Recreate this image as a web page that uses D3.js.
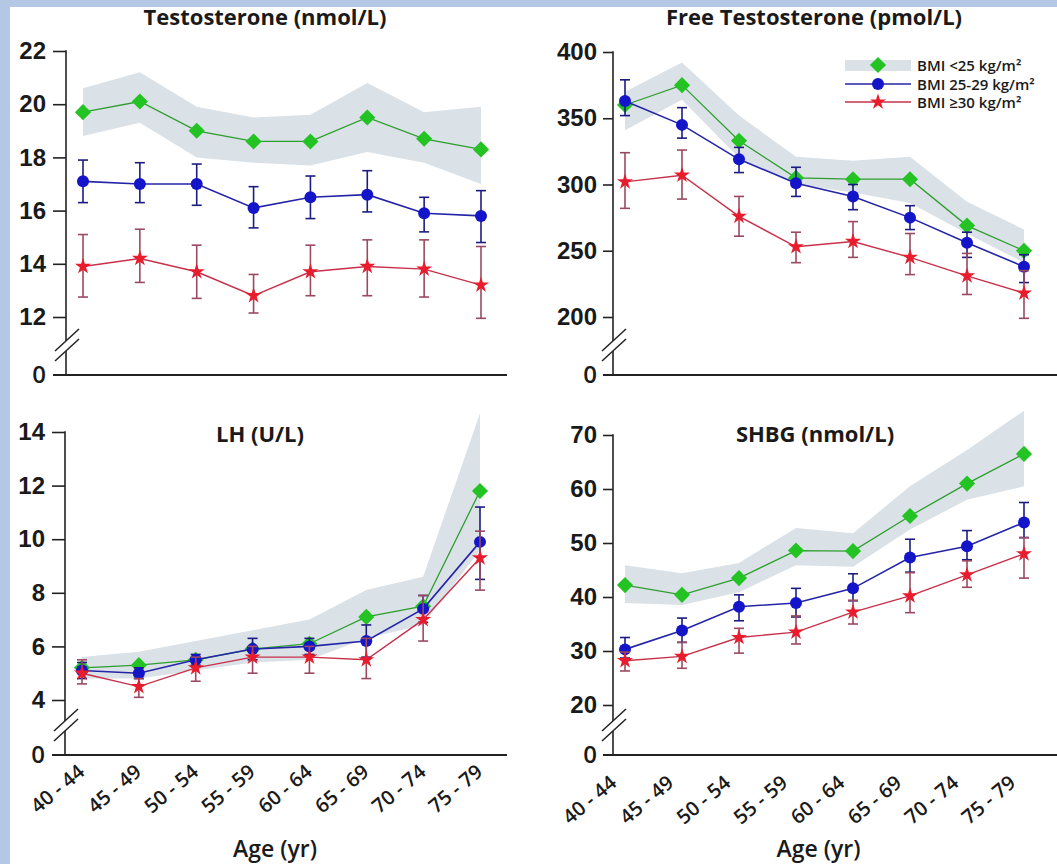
<!DOCTYPE html>
<meta charset="utf-8">
<style>
body{margin:0;background:#b4c8e6;}
svg{display:block;font-family:"Open Sans",sans-serif;}
</style>
<svg id="chart" width="1057" height="864"></svg>
<script src="https://cdn.jsdelivr.net/npm/d3@7"></script>
<script>

// age groups on x
var ageGroups = ["40 - 44","45 - 49","50 - 54","55 - 59","60 - 64","65 - 69","70 - 74","75 - 79"]

// testosterone (nmol/L)
var testoLean = [19.7, 20.1, 19.0, 18.6, 18.6, 19.5, 18.7, 18.3],
    testoLeanLo = [18.8, 19.3, 18.0, 17.8, 17.7, 18.2, 17.8, 17.0],
    testoLeanHi = [20.6, 21.2, 19.9, 19.5, 19.6, 20.8, 19.7, 19.9],
    testoOver = [17.1, 17.0, 17.0, 16.1, 16.5, 16.6, 15.9, 15.8],
    testoOverLo = [16.3, 16.3, 16.2, 15.35, 15.7, 15.95, 15.2, 14.8],
    testoOverHi = [17.9, 17.8, 17.75, 16.9, 17.3, 17.5, 16.5, 16.75],
    testoObese = [13.9, 14.2, 13.7, 12.8, 13.7, 13.9, 13.8, 13.2],
    testoObeseLo = [12.75, 13.3, 12.7, 12.15, 12.8, 12.8, 12.75, 11.95],
    testoObeseHi = [15.1, 15.3, 14.7, 13.6, 14.7, 14.9, 14.9, 14.65]

// free testosterone (pmol/L)
var freeLean = [360, 375, 333, 305, 304, 304, 269, 250],
    freeLeanLo = [341, 364, 320, 300, 294, 286, 263, 241],
    freeLeanHi = [370, 392, 352, 321, 318, 321, 287, 266],
    freeOver = [363, 345, 319, 301, 291, 275, 256, 238],
    freeOverLo = [352, 335, 309, 291, 281, 266, 245, 226],
    freeOverHi = [379, 358, 328, 313, 300, 284, 264, 247],
    freeObese = [302, 307, 276, 253, 257, 245, 231, 218],
    freeObeseLo = [282, 289, 261, 241, 245, 232, 217, 199],
    freeObeseHi = [324, 326, 291, 264, 272, 263, 248, 235]

// LH (U/L)
var lhLean = [5.2, 5.3, 5.5, 5.9, 6.1, 7.1, 7.5, 11.8],
    lhLeanLo = [4.8, 4.8, 5.1, 5.4, 5.5, 6.3, 6.8, 9.6],
    lhLeanHi = [5.6, 5.8, 6.2, 6.6, 7.0, 8.1, 8.6, 14.7],
    lhOver = [5.1, 5.0, 5.5, 5.9, 6.0, 6.2, 7.4, 9.9],
    lhOverLo = [4.8, 4.8, 5.3, 5.5, 5.7, 5.6, 6.9, 8.5],
    lhOverHi = [5.4, 5.2, 5.7, 6.3, 6.3, 6.8, 7.9, 11.2],
    lhObese = [5.0, 4.5, 5.2, 5.6, 5.6, 5.5, 7.0, 9.3],
    lhObeseLo = [4.6, 4.1, 4.7, 5.0, 5.0, 4.8, 6.2, 8.1],
    lhObeseHi = [5.5, 4.8, 5.6, 6.0, 6.0, 6.3, 7.9, 10.3]

// SHBG (nmol/L)
var shbgLean = [42.2, 40.4, 43.5, 48.6, 48.5, 55.0, 61.0, 66.5],
    shbgLeanLo = [38.9, 38.5, 40.9, 45.9, 45.6, 52.5, 58.0, 60.5],
    shbgLeanHi = [45.9, 44.4, 46.3, 52.8, 51.8, 60.5, 67.2, 74.5],
    shbgOver = [30.3, 33.8, 38.2, 38.9, 41.6, 47.3, 49.4, 53.8],
    shbgOverLo = [28.7, 31.6, 35.6, 36.3, 39.3, 44.6, 46.9, 51.0],
    shbgOverHi = [32.5, 36.1, 40.4, 41.6, 44.3, 50.7, 52.3, 57.5],
    shbgObese = [28.2, 29.0, 32.5, 33.5, 37.2, 40.2, 44.1, 48.0],
    shbgObeseLo = [26.3, 26.8, 29.6, 31.3, 35.0, 37.1, 41.8, 43.5],
    shbgObeseHi = [29.8, 31.6, 34.2, 36.5, 39.4, 44.5, 46.7, 51.0]

var legendLabels = ["BMI <25 kg/m\u00b2", "BMI 25-29 kg/m\u00b2", "BMI \u226530 kg/m\u00b2"]

var green = '#22c322', greenLine = '#2e9e2e',
    blue = '#1414c8', blueLine = '#2424a8', blueErr = '#1c1c80',
    red = '#e81c2c', redLine = '#c8304a', redErr = '#9a4a60',
    band = '#dae1e7', ink = '#1a1a1a'

var panels = [
  {title: 'Testosterone (nmol/L)', tx: 265, ty: 25, ticks: [12,14,16,18,20,22],
   px: [317, 51], axisX: 66, axisY: 375, xr: [83, 481], xEnd: 507, tick: 13, pad: 7, xlab: null,
   g: [testoLean, testoLeanLo, testoLeanHi], b: [testoOver, testoOverLo, testoOverHi], r: [testoObese, testoObeseLo, testoObeseHi]},
  {title: 'Free Testosterone (pmol/L)', tx: 814, ty: 25, ticks: [200,250,300,350,400],
   px: [317, 52], axisX: 613, axisY: 375, xr: [625, 1024], xEnd: 1057, tick: 10, pad: 6, xlab: null,
   g: [freeLean, freeLeanLo, freeLeanHi], b: [freeOver, freeOverLo, freeOverHi], r: [freeObese, freeObeseLo, freeObeseHi]},
  {title: 'LH (U/L)', tx: 260, ty: 442, ticks: [4,6,8,10,12,14],
   px: [700, 432], axisX: 65, axisY: 755, xr: [82, 480], xEnd: 507, tick: 13, pad: 7, xlab: [4, 19],
   g: [lhLean, lhLeanLo, lhLeanHi], b: [lhOver, lhOverLo, lhOverHi], r: [lhObese, lhObeseLo, lhObeseHi]},
  {title: 'SHBG (nmol/L)', tx: 815, ty: 442, ticks: [20,30,40,50,60,70],
   px: [705, 435], axisX: 613, axisY: 755, xr: [625, 1024], xEnd: 1057, tick: 10, pad: 6, xlab: [-7, 30],
   g: [shbgLean, shbgLeanLo, shbgLeanHi], b: [shbgOver, shbgOverLo, shbgOverHi], r: [shbgObese, shbgObeseLo, shbgObeseHi]}
]

var svg = d3.select('#chart')

svg.append('rect').attr('x', 10).attr('y', 7).attr('width', 1047).attr('height', 857).attr('fill', 'white')

var diamond = d3.symbol(d3.symbolSquare, 130)(),
    star = d3.symbol(d3.symbolStar, 80)()

panels.forEach(function(p){
  var g = svg.append('g')
  var x = d3.scalePoint().domain(ageGroups).range(p.xr)
  var y = d3.scaleLinear().domain([p.ticks[0], p.ticks[p.ticks.length-1]]).range(p.px)

  // axes
  var ya = g.append('g').attr('transform', 'translate(' + p.axisX + ',0)')
      .call(d3.axisLeft(y).tickValues(p.ticks).tickSize(p.tick).tickPadding(p.pad))
  ya.select('.domain').remove()
  ya.selectAll('line').attr('stroke', '#222').attr('stroke-width', 1.6)
  ya.selectAll('text').attr('font-size', 24).attr('font-weight', 600).attr('fill', ink)

  // broken y axis line
  var brk = p.axisY - 29
  g.append('line').attr('x1', p.axisX).attr('x2', p.axisX).attr('y1', y(p.ticks[p.ticks.length-1]) - 0.8).attr('y2', brk - 5)
      .attr('stroke', '#222').attr('stroke-width', 1.6)
  g.append('line').attr('x1', p.axisX).attr('x2', p.axisX).attr('y1', brk + 5).attr('y2', p.axisY)
      .attr('stroke', '#222').attr('stroke-width', 1.6)
  ;[-5, 5].forEach(function(o){
    g.append('line').attr('x1', p.axisX - 11).attr('y1', brk + o + 10).attr('x2', p.axisX + 13).attr('y2', brk + o - 12)
        .attr('stroke', '#222').attr('stroke-width', 1.5)
  })

  // x axis line with 0 tick
  g.append('line').attr('x1', p.axisX - p.tick).attr('x2', p.xEnd).attr('y1', p.axisY).attr('y2', p.axisY)
      .attr('stroke', '#222').attr('stroke-width', 1.8)
  g.append('text').attr('x', p.axisX - p.tick - p.pad).attr('y', p.axisY).attr('dy', '0.32em')
      .attr('text-anchor', 'end').attr('font-size', 24).attr('font-weight', 600).attr('fill', ink).text('0')

  if (p.xlab){
    g.selectAll('.xl').data(ageGroups).enter().append('text')
        .attr('transform', function(d){ return 'translate(' + (x(d) + p.xlab[0]) + ',' + (p.axisY + p.xlab[1]) + ') rotate(-40)' })
        .attr('text-anchor', 'end').attr('font-size', 20).attr('font-weight', 600).attr('fill', ink)
        .text(function(d){ return d })
    g.append('text').attr('x', (p.xr[0] + p.xr[1]) / 2 - 6).attr('y', 857).attr('text-anchor', 'middle')
        .attr('font-size', 23).attr('font-weight', 600).attr('fill', ink).text('Age (yr)')
  }

  g.append('text').attr('x', p.tx).attr('y', p.ty).attr('text-anchor', 'middle')
      .attr('font-size', 22).attr('font-weight', 700).attr('fill', ink).text(p.title)

  // band for lean group
  g.append('path').datum(ageGroups)
      .attr('d', d3.area().x(function(d){ return x(d) })
          .y0(function(d, i){ return y(p.g[1][i]) }).y1(function(d, i){ return y(p.g[2][i]) }))
      .attr('fill', band)

  var line = function(vals){
    return d3.line().x(function(d){ return x(d) }).y(function(d, i){ return y(vals[i]) })(ageGroups)
  }

  function errBars(s, col){
    var eb = g.append('g').attr('stroke', col).attr('stroke-width', 1.6)
    ageGroups.forEach(function(d, i){
      eb.append('line').attr('x1', x(d)).attr('x2', x(d)).attr('y1', y(s[1][i])).attr('y2', y(s[2][i]))
      eb.append('line').attr('x1', x(d) - 5).attr('x2', x(d) + 5).attr('y1', y(s[1][i])).attr('y2', y(s[1][i]))
      eb.append('line').attr('x1', x(d) - 5).attr('x2', x(d) + 5).attr('y1', y(s[2][i])).attr('y2', y(s[2][i]))
    })
  }

  // green
  g.append('path').attr('d', line(p.g[0])).attr('fill', 'none').attr('stroke', greenLine).attr('stroke-width', 1.3)
  g.selectAll('.gm').data(ageGroups).enter().append('path')
      .attr('d', diamond)
      .attr('transform', function(d, i){ return 'translate(' + x(d) + ',' + y(p.g[0][i]) + ') rotate(45)' })
      .attr('fill', green)

  // blue
  errBars(p.b, blueErr)
  g.append('path').attr('d', line(p.b[0])).attr('fill', 'none').attr('stroke', blueLine).attr('stroke-width', 1.6)
  g.selectAll('.bm').data(ageGroups).enter().append('circle')
      .attr('cx', function(d){ return x(d) }).attr('cy', function(d, i){ return y(p.b[0][i]) })
      .attr('r', 6).attr('fill', blue)

  // red
  errBars(p.r, redErr)
  g.append('path').attr('d', line(p.r[0])).attr('fill', 'none').attr('stroke', redLine).attr('stroke-width', 1.4)
  g.selectAll('.rm').data(ageGroups).enter().append('path')
      .attr('d', star)
      .attr('transform', function(d, i){ return 'translate(' + x(d) + ',' + y(p.r[0][i]) + ')' })
      .attr('fill', red)
})

// legend
var leg = svg.append('g')
leg.append('rect').attr('x', 845).attr('y', 60).attr('width', 66).attr('height', 11).attr('fill', band)
leg.append('path').attr('d', diamond).attr('transform', 'translate(878,65) rotate(45)').attr('fill', green)
leg.append('line').attr('x1', 845).attr('x2', 911).attr('y1', 84).attr('y2', 84).attr('stroke', blueLine).attr('stroke-width', 1.6)
leg.append('circle').attr('cx', 878).attr('cy', 84).attr('r', 6).attr('fill', blue)
leg.append('line').attr('x1', 845).attr('x2', 911).attr('y1', 102).attr('y2', 102).attr('stroke', redLine).attr('stroke-width', 1.4)
leg.append('path').attr('d', star).attr('transform', 'translate(878,102)').attr('fill', red)
leg.selectAll('.lt').data(legendLabels).enter().append('text')
    .attr('x', 917).attr('y', function(d, i){ return 71 + i * 18.5 })
    .attr('font-size', 15).attr('font-weight', 600).attr('fill', ink)
    .text(function(d){ return d })

</script>
